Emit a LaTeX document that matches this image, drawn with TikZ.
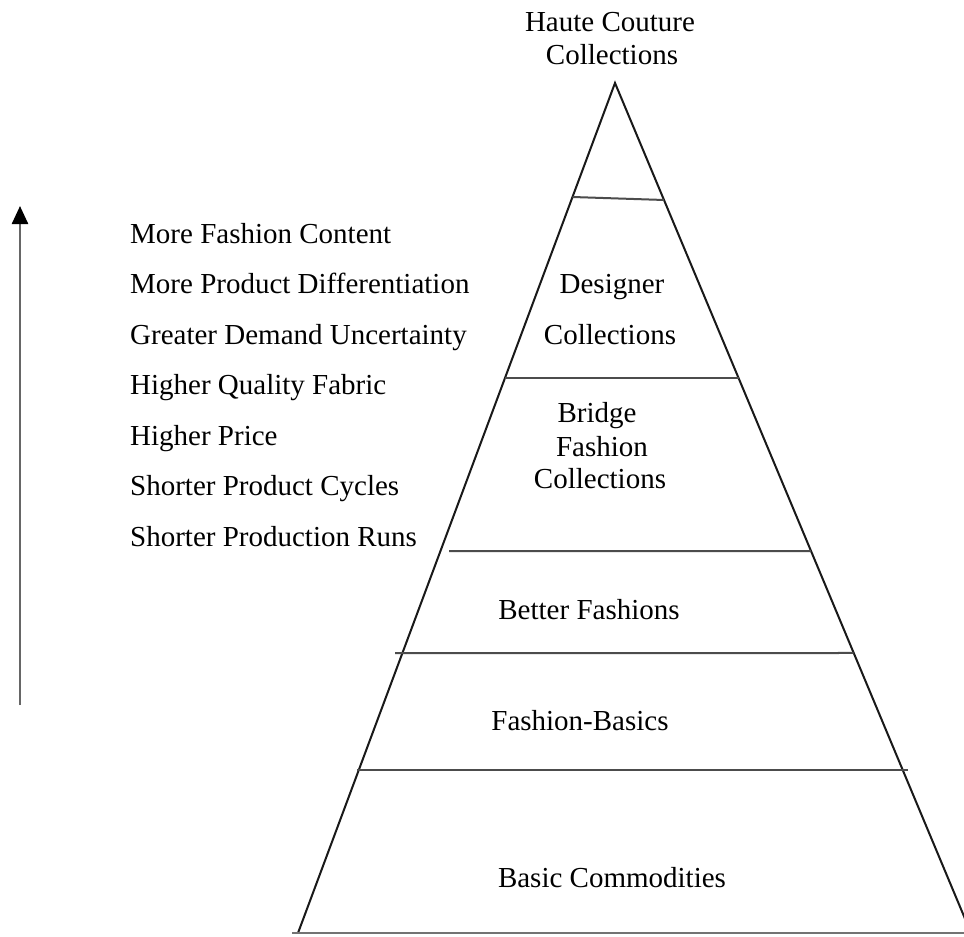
\documentclass[tikz,border=0pt]{standalone}
\usepackage{fontspec}
\setmainfont{Liberation Serif}
\usetikzlibrary{arrows.meta,calc}
\begin{document}
\begin{tikzpicture}[x=1pt,y=-1pt,
  edge/.style={line width=2pt,black!90},
  tier/.style={line width=2pt,black!70},
  lbl/.style={inner sep=0pt,font=\fontsize{29}{33}\selectfont,anchor=base},
  item/.style={inner sep=0pt,font=\fontsize{29}{33}\selectfont,anchor=base west}]
\clip (0,0) rectangle (964,937);
\fill[white] (0,0) rectangle (964,937);
% pyramid outline
\coordinate (apex) at (615,83);
\coordinate (bl) at (298,933);
\coordinate (br) at (971,933);
\draw[edge,line join=miter] (bl) -- (apex) -- (br);
% tier lines
\coordinate (l1) at ($(apex)!{(197-83)/850}!(bl)$);
\coordinate (r1) at ($(apex)!{(200-83)/850}!(br)$);
\coordinate (l2) at ($(apex)!{(378-83)/850}!(bl)$);
\coordinate (r2) at ($(apex)!{(378-83)/850}!(br)$);
\coordinate (l3) at (449,551);
\coordinate (r3) at ($(apex)!{(551-83)/850}!(br)$);
\coordinate (l4) at (395,653);
\coordinate (r4) at ($(apex)!{(653-83)/850}!(br)$);
\coordinate (l5) at (357,770);
\coordinate (r5) at (908,770);
\coordinate (l6) at (292,933);
\coordinate (r6) at (964,933);
\draw[tier] (l1) -- (r1);
\draw[tier] (l2) -- (r2);
\draw[tier] (l3) -- (r3);
\draw[tier] (l4) -- (r4);
\draw[tier] (l5) -- (r5);
\draw[tier,black!55] (l6) -- (r6);
% tier labels
\node[lbl] (hc1) at (610,31) {Haute Couture};
\node[lbl] (hc2) at (612,64) {Collections};
\node[lbl] (de1) at (612,293.5) {Designer};
\node[lbl] (de2) at (610,344) {Collections};
\node[lbl] (br1) at (597,422) {Bridge};
\node[lbl] (br2) at (602,456) {Fashion};
\node[lbl] (br3) at (600,488) {Collections};
\node[lbl] (bf) at (589,619) {Better Fashions};
\node[lbl] (fb) at (580,730) {Fashion-Basics};
\node[lbl] (bc) at (612,887) {Basic Commodities};
% left list
\node[item] (t1) at (130,243) {More Fashion Content};
\node[item] (t2) at (130,293.5) {More Product Differentiation};
\node[item] (t3) at (130,344) {Greater Demand Uncertainty};
\node[item] (t4) at (130,394.5) {Higher Quality Fabric};
\node[item] (t5) at (130,445) {Higher Price};
\node[item] (t6) at (130,495.5) {Shorter Product Cycles};
\node[item] (t7) at (130,546) {Shorter Production Runs};
% arrow
\coordinate (abot) at (20,705);
\coordinate (atop) at (20,206);
\draw[line width=2.5pt,black!60,-{Triangle[length=18pt,width=16pt,fill=black,color=black]}] (abot) -- (atop);
\end{tikzpicture}
\end{document}
